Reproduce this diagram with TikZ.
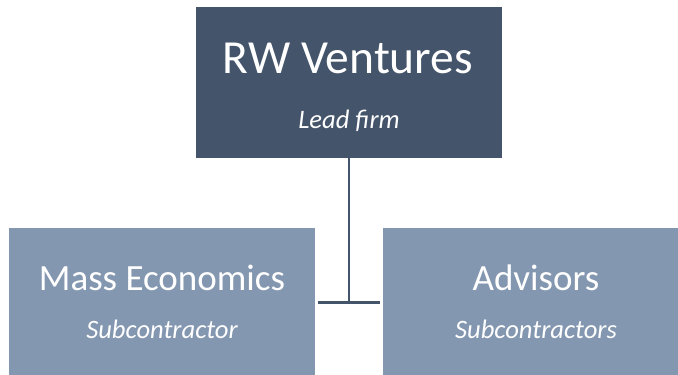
\documentclass[tikz,border=0pt]{standalone}
\usepackage{fontspec}
\setmainfont{Carlito}
\definecolor{darkbox}{HTML}{44546A}
\definecolor{lightbox}{HTML}{8497B0}
\begin{document}
\begin{tikzpicture}[x=1pt,y=-1pt,
  box/.style={draw=none,inner sep=0pt,outer sep=0pt},
  big/.style={text=white,anchor=base,inner sep=0pt,font=\fontsize{37}{40}\selectfont},
  title/.style={text=white,anchor=base,inner sep=0pt,font=\fontsize{47.5}{52}\selectfont},
  sub/.style={text=white,anchor=base,inner sep=0pt,font=\itshape\fontsize{26.6}{30}\selectfont},
  conn/.style={draw=darkbox,line width=2.3pt}]
\useasboundingbox (0,0) rectangle (678,375);
\node[box,fill=darkbox,minimum width=306pt,minimum height=151pt] (top) at (349,82.5) {};
\node[box,fill=lightbox,minimum width=306pt,minimum height=147pt] (left) at (162,301.5) {};
\node[box,fill=lightbox,minimum width=306pt,minimum height=147pt] (right) at (536,301.5) {};
\node[title] (t1) at (348,73) {RW Ventures};
\node[sub] (t2) at (349,128) {Lead firm};
\node[big] (l1) at (162,290) {Mass Economics};
\node[sub] (l2) at (162,338) {Subcontractor};
\node[big] (r1) at (536,290) {Advisors};
\node[sub] (r2) at (536,338) {Subcontractors};
\coordinate (jl) at (318,302.5);
\coordinate (jr) at (380,302.5);
\draw[conn] (jl) -- (jr);
\draw[conn] (top.south) -- (top.south |- jl);
\end{tikzpicture}
\end{document}
